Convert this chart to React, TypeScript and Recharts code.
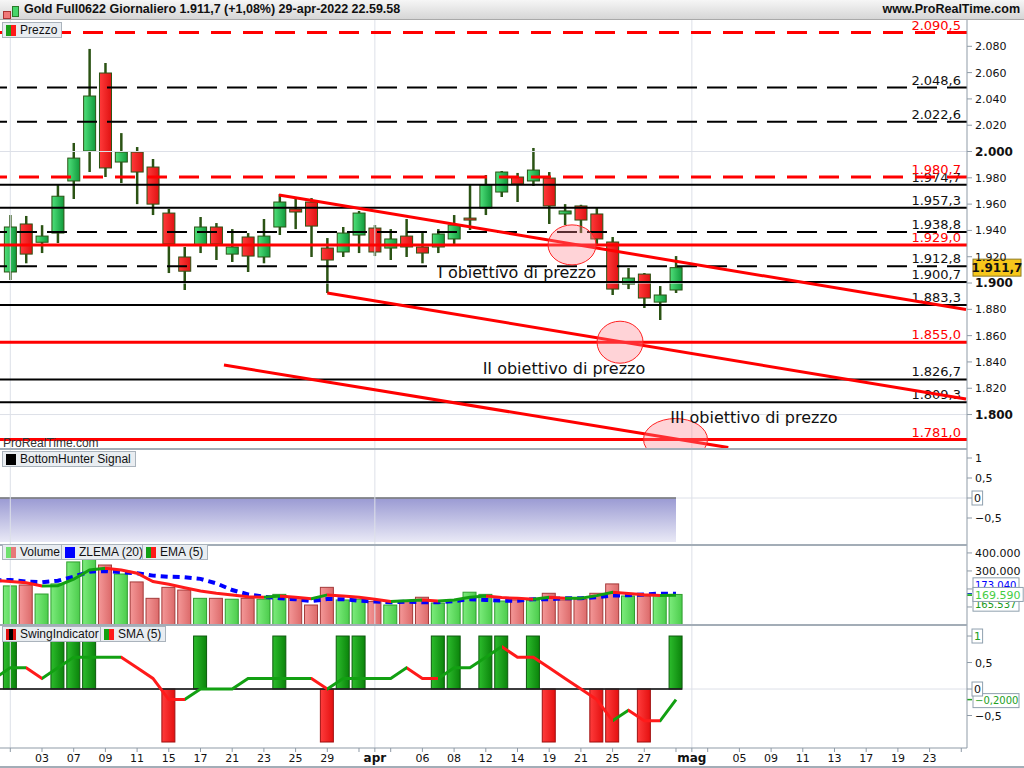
import React from "react";
import {
  ComposedChart,
  Bar,
  Line,
  Area,
  XAxis,
  YAxis,
  ReferenceLine,
  ReferenceDot,
} from "recharts";

// ---- data ----
const opens = [
  1908.4, 1944.9, 1931.0, 1938.0, 1977.6, 2000.4, 2059.7, 1992.0, 1999.6, 1988.2,
  1953.2, 1919.8, 1928.9, 1942.6, 1922.0, 1935.0, 1919.8, 1942.6, 1956.3, 1961.6,
  1926.6, 1923.6, 1936.5, 1941.8, 1926.6, 1935.7, 1927.4, 1927.4, 1933.5, 1949.4,
  1957.0, 1969.2, 1980.6, 1977.6, 1979.8, 1952.5, 1958.6, 1952.5, 1931.2, 1899.2,
  1906.8, 1885.5, 1894.7,
];
const highs = [
  1951.7, 1951.0, 1944.0, 1974.5, 2006.5, 2078.0, 2067.3, 2014.0, 2003.4, 1994.3,
  1956.3, 1927.4, 1950.2, 1945.6, 1941.0, 1938.0, 1948.7, 1967.7, 1963.9, 1964.6,
  1934.2, 1942.6, 1954.8, 1944.1, 1941.0, 1948.7, 1938.0, 1941.0, 1951.7, 1974.5,
  1982.1, 1985.2, 1983.7, 2002.7, 1984.4, 1960.0, 1959.5, 1957.0, 1935.0, 1911.4,
  1907.6, 1897.7, 1920.5,
];
const lows = [
  1902.3, 1915.0, 1922.8, 1930.4, 1963.9, 1984.4, 1980.6, 1976.0, 1960.0, 1951.7,
  1907.6, 1894.7, 1922.8, 1917.5, 1916.0, 1908.4, 1915.0, 1936.5, 1941.0, 1919.8,
  1892.4, 1919.8, 1922.8, 1920.5, 1917.5, 1919.8, 1915.0, 1922.8, 1929.7, 1940.3,
  1951.7, 1965.4, 1961.6, 1973.8, 1944.9, 1944.1, 1938.0, 1929.7, 1890.9, 1895.4,
  1881.0, 1871.9, 1892.4,
];
const closes = [
  1942.6, 1922.0, 1935.7, 1966.0, 1995.0, 2042.2, 1987.5, 1999.6, 1984.4, 1960.0,
  1929.7, 1909.0, 1942.6, 1929.7, 1927.4, 1920.5, 1935.7, 1961.6, 1954.0, 1943.3,
  1917.5, 1938.0, 1953.2, 1923.6, 1933.5, 1927.4, 1922.8, 1937.3, 1944.1, 1947.9,
  1974.5, 1984.4, 1975.3, 1985.9, 1958.6, 1954.8, 1947.9, 1933.5, 1895.4, 1903.8,
  1888.6, 1890.9, 1911.7,
];

const volumes = [
  217000, 222000, 172000, 228000, 350000, 365000, 333000, 283000, 239000, 148000,
  209000, 194000, 148000, 148000, 143000, 148000, 143000, 170000, 148000, 111000,
  209000, 139000, 143000, 130000, 111000, 133000, 154000, 122000, 137000, 182000,
  170000, 133000, 139000, 137000, 176000, 139000, 143000, 176000, 228000, 161000,
  161000, 167000, 169590,
];
const volumeUp = [
  1, 0, 1, 1, 1, 1, 0, 1, 0, 0, 0, 0, 1, 0, 1, 0, 1, 1, 0, 0, 0, 1, 1, 0, 1, 0,
  0, 1, 1, 1, 1, 1, 0, 1, 0, 0, 0, 0, 0, 1, 0, 1, 1,
];
// indicator series start one session before the first candle (index -1)
const emaVolume = [
  249000, 241000, 235000, 217000, 218000, 254000, 305000, 315000, 305000, 287000,
  241000, 226000, 207000, 189000, 176000, 167000, 157000, 154000, 161000, 154000,
  146000, 167000, 161000, 154000, 143000, 130000, 135000, 139000, 133000, 139000,
  154000, 161000, 152000, 148000, 143000, 154000, 148000, 149000, 163000, 182000,
  175000, 168000, 164000, 165537,
];
const zlemaVolume = [
  247000, 250000, 241000, 237000, 246000, 268000, 296000, 300000, 293000, 287000,
  274000, 268000, 265000, 256000, 231000, 194000, 170000, 157000, 148000, 143000,
  133000, 144000, 143000, 135000, 130000, 126000, 130000, 126000, 126000, 133000,
  143000, 139000, 135000, 135000, 143000, 143000, 148000, 148000, 154000, 163000,
  165000, 170000, 174000, 173040,
];
const swing = [
  1, 0, 0, 1, 1, 1, 0, 0, 0, 0, -1, 0, 1, 0, 0, 0, 0, 1, 0, 0, -1, 1, 1, 0, 0, 0,
  0, 1, 1, 0, 1, 1, 0, 1, -1, 0, 0, -1, -1, 0, -1, 0, 1,
];
const swingSma = [
  0.2, 0.4, 0.4, 0.2, 0.4, 0.6, 0.6, 0.6, 0.6, 0.4, 0.2, -0.2, -0.2, 0, 0, 0, 0.2,
  0.2, 0.2, 0.2, 0.2, 0, 0.2, 0.2, 0.2, 0.2, 0.4, 0.2, 0.2, 0.4, 0.4, 0.6, 0.8,
  0.6, 0.6, 0.4, 0.2, 0, -0.2, -0.6, -0.4, -0.6, -0.6, -0.2,
];

const redDashedLevels = [2090.5, 1980.7];
const blackDashedLevels = [2048.6, 2022.6, 1938.8, 1912.8];
const blackSolidLevels = [1974.7, 1957.3, 1900.7, 1883.3, 1826.7, 1809.3];
const redSolidLevels = [1929.0, 1855.0, 1781.0];

// trend lines: [start index, start price, end index, end price]
const trendLines = [
  [16.95, 1966.9, 60.3, 1879.8],
  [20, 1892.4, 60.3, 1811.8],
  [13.48, 1837.6, 45.3, 1774.9],
];
const targetIdx = [35.44, 38.47, 41.97];
const targetPrice = [1929.0, 1855.0, 1781.0];
const targetTexts = ["I obiettivo di prezzo", "II obiettivo di prezzo", "III obiettivo di prezzo"];
const targetTextIdx = [31.97, 34.93, 46.92];
const targetTextPrice = [1908.4, 1835.4, 1798.1];

const priceTicks = [1800, 1820, 1840, 1860, 1880, 1900, 1920, 1940, 1960, 1980, 2000, 2020, 2040, 2060, 2080];
const volumeTicks = [100000, 200000, 300000, 400000];
const volumeTickLabels = ["", "", "300.000", "400.000"];
const xTickIdx = [0, 2, 4, 6, 8, 10, 12, 14, 16, 18, 20, 22, 23, 24, 26, 28, 30, 32, 34, 36, 38, 40, 42, 43, 44, 46, 48, 50, 52, 54, 56, 58, 60];
const xTickLabels = ["", "03", "07", "09", "11", "15", "17", "21", "23", "25", "29", "", "apr", "", "06", "08", "12", "14", "19", "21", "25", "27", "", "mag", "", "05", "09", "11", "13", "17", "19", "23", ""];
const monthStarts = [0, 23, 43];
const lastPrice = 1911.7;

// ---- layout / style ----
const W = 1024;
const AXIS_W = 57;
const X_DOMAIN: [number, number] = [-0.65, 60.36];
const FONT = "'DejaVu Sans', sans-serif";
const LEGEND_FONT = "'Liberation Sans', Arial, sans-serif";
const WICK = "#2b5314";
const UP = "#12a012";
const DOWN = "#ff1a1a";
const GRID = "#dde0e8";
const AXIS = "#8f9ba7";
const SEP = "#a3adb7";
const ELLIPSE_RX = [24, 23, 32];
const ELLIPSE_RY = [20, 21, 21];

const priceRows = opens.map((o, i) => ({ i, open: o, high: highs[i], low: lows[i], close: closes[i] }));
const volRows = emaVolume.map((e, k) => {
  const i = k - 1;
  return { i, vol: i >= 0 ? volumes[i] : null, up: i >= 0 ? volumeUp[i] : 1, ema: e, zlema: zlemaVolume[k] };
});
const swingRows = swingSma.map((s, k) => {
  const i = k - 1;
  return { i, swing: i >= 0 ? swing[i] : null, sma: s, bh: 0 };
});

const itNum = (v: number, d: number) => {
  const neg = v < 0;
  const [int, frac] = Math.abs(v).toFixed(d).split(".");
  const s = int.replace(/\B(?=(\d{3})+(?!\d))/g, ".") + (frac ? "," + frac : "");
  return (neg ? "\u2212" : "") + s;
};

function trendStops(vals: number[], id: string) {
  const n = vals.length;
  const stops: React.ReactNode[] = [];
  let col = UP;
  for (let k = 0; k < n - 1; k++) {
    const d = vals[k + 1] - vals[k];
    if (d > 0) col = UP;
    else if (d < 0) col = DOWN;
    stops.push(<stop key={`${id}a${k}`} offset={k / (n - 1)} stopColor={col} />);
    stops.push(<stop key={`${id}b${k}`} offset={(k + 1) / (n - 1)} stopColor={col} />);
  }
  return stops;
}

function Candle(props: any) {
  const { x, y, width, height, payload } = props;
  if (!payload || x == null || y == null) return null;
  const top = Math.min(y, y + height);
  const h = Math.abs(height);
  const { open, high, low, close } = payload;
  const toY = (v: number) => top + ((high - v) / (high - low)) * h;
  const cx = x + width / 2;
  const up = close >= open;
  const bTop = toY(Math.max(open, close));
  const bBot = toY(Math.min(open, close));
  return (
    <g>
      <line x1={cx} x2={cx} y1={top} y2={top + h} stroke={WICK} strokeWidth={2.5} />
      <rect
        x={x}
        y={bTop}
        width={width}
        height={Math.max(bBot - bTop, 2)}
        fill={up ? "url(#candleUp)" : "url(#candleDown)"}
        stroke={WICK}
        strokeWidth={1}
      />
    </g>
  );
}

function VolumeBar(props: any) {
  const { x, y, width, height, payload } = props;
  if (!payload || !height) return null;
  const up = payload.up === 1;
  return (
    <rect
      x={x}
      y={y}
      width={width}
      height={height}
      fill={up ? "url(#volUp)" : "url(#volDown)"}
      stroke={up ? "#2f9e2f" : "#a43a3a"}
      strokeWidth={1}
    />
  );
}

function SwingBar(props: any) {
  const { x, y, width, height, payload } = props;
  if (!payload || !payload.swing) return null;
  const up = payload.swing > 0;
  const top = Math.min(y, y + height);
  return (
    <rect
      x={x}
      y={top}
      width={width}
      height={Math.abs(height)}
      fill={up ? "url(#swingUp)" : "url(#swingDown)"}
      stroke={up ? "#0c5a0c" : "#a01010"}
      strokeWidth={1}
    />
  );
}

const priceTick = (props: any) => {
  const { x, y, payload } = props;
  const v = payload.value;
  const bold = v % 100 === 0;
  return (
    <text x={x} y={y} dy={4} fontFamily={FONT} fontSize={bold ? 12 : 11} fontWeight={bold ? "bold" : "normal"} fill="#111">
      {itNum(v, 0)}
    </text>
  );
};

const boxedText = (x: number, y: number, text: string, color: string, fontSize = 11) => {
  const w = text.length * fontSize * 0.6 + 4;
  return (
    <g>
      <rect x={x} y={y - 7} width={w} height={14} fill="#fff" stroke="#8fa0ae" strokeWidth={1} />
      <text x={x + 2} y={y} dy={fontSize * 0.37} fontFamily={FONT} fontSize={fontSize} fill={color}>
        {text}
      </text>
    </g>
  );
};

const smallTick = (boxedValue: number | null, boxedColor: string) => (props: any) => {
  const { x, y, payload } = props;
  const v = payload.value;
  const text = itNum(v, v % 1 === 0 ? 0 : 1);
  if (boxedValue !== null && v === boxedValue) return boxedText(x - 3, y, text, boxedColor);
  if (v === 0) return boxedText(x - 3, y, text, "#111");
  return (
    <text x={x} y={y} dy={4} fontFamily={FONT} fontSize={11} fill="#111">
      {text}
    </text>
  );
};

const volumeTick = (props: any) => {
  const { x, y, payload } = props;
  const label = volumeTickLabels[volumeTicks.indexOf(payload.value)] ?? "";
  return (
    <text x={x} y={y} dy={4} fontFamily={FONT} fontSize={11} fill="#111">
      {label}
    </text>
  );
};

const xTick = (props: any) => {
  const { x, y, payload } = props;
  const label = xTickLabels[xTickIdx.indexOf(payload.value)] ?? "";
  const bold = label === "apr" || label === "mag";
  return (
    <text x={x} y={y} dy={9} textAnchor="middle" fontFamily={FONT} fontSize={bold ? 12 : 11} fontWeight={bold ? "bold" : "normal"} fill="#111">
      {label}
    </text>
  );
};

const levelLabel = (text: string, color: string) => (props: any) => {
  const vb = props.viewBox;
  if (!vb) return null;
  return (
    <text x={vb.x + vb.width - 6} y={vb.y - 3} textAnchor="end" fontFamily={FONT} fontSize={13} fill={color}>
      {text}
    </text>
  );
};

const hGrad = (id: string, a: string, b: string) => (
  <linearGradient id={id} x1="0" y1="0" x2="1" y2="0">
    <stop offset="0%" stopColor={a} />
    <stop offset="100%" stopColor={b} />
  </linearGradient>
);

function LegendBox({ left, top, icon, text }: { left: number; top: number; icon: React.ReactNode; text: string }) {
  return (
    <div
      style={{
        position: "absolute",
        left,
        top,
        height: 16,
        padding: "0 4px 0 3px",
        display: "flex",
        alignItems: "center",
        gap: 4,
        background: "#e9edf1",
        border: "1px solid #aab3bc",
        boxSizing: "border-box",
        fontFamily: LEGEND_FONT,
        fontSize: 12,
        color: "#111",
        whiteSpace: "nowrap",
      }}
    >
      {icon}
      {text}
    </div>
  );
}

const twoTone = (a: string, b: string, c?: string) => (
  <span style={{ display: "flex", width: 10, height: 11 }}>
    <span style={{ flex: 1, background: a }} />
    {c && <span style={{ flex: 1, background: c }} />}
    <span style={{ flex: 1, background: b }} />
  </span>
);

const monthGrid = () =>
  monthStarts.map((m) => <ReferenceLine key={`m${m}`} x={m} stroke={GRID} strokeWidth={1} />);

const valueBox = (v: number, text: string, color: string, dy: number, fontSize = 11) => (
  <ReferenceLine
    key={`vb${v}${text}`}
    y={v}
    stroke="none"
    label={{
      content: (p: any) => {
        const vb = p.viewBox;
        if (!vb) return null;
        const x0 = vb.x + vb.width;
        return (
          <g>
            <line x1={x0} x2={x0 + 5} y1={vb.y} y2={vb.y} stroke={color} strokeWidth={1.5} />
            {boxedText(x0 + 6, vb.y + dy, text, color, fontSize)}
          </g>
        );
      },
    }}
  />
);

export default function App() {
  const priceH = 429;
  const bhH = 96;
  const volH = 80;
  const swingH = 143;

  return (
    <div style={{ position: "absolute", left: 0, top: 0, width: W, height: 768, background: "#fff", overflow: "hidden" }}>
      {/* header */}
      <div
        style={{
          position: "absolute",
          left: 0,
          top: 0,
          width: W,
          height: 20,
          background: "linear-gradient(#f6f6f6, #d6d6d6)",
          borderBottom: "1px solid #a9a9a9",
          boxSizing: "border-box",
          fontFamily: LEGEND_FONT,
          fontWeight: "bold",
          fontSize: 12.5,
          color: "#111",
        }}
      >
        <span style={{ position: "absolute", left: 3, top: 11, width: 6, height: 6, background: "#f07878", border: "1px solid #a33" }} />
        <span style={{ position: "absolute", left: 12, top: 6, width: 5, height: 9, background: "#46d66a", border: "1px solid #2a7a2a" }} />
        <span style={{ position: "absolute", left: 24, top: 2 }}>
          Gold Full0622 Giornaliero 1.911,7 (+1,08%) 29-apr-2022 22.59.58
        </span>
        <span style={{ position: "absolute", right: 4, top: 2 }}>www.ProRealTime.com</span>
      </div>

      {/* price panel */}
      <div style={{ position: "absolute", left: 0, top: 20 }}>
        <ComposedChart width={W} height={priceH} data={priceRows} margin={{ top: 0, right: 0, bottom: 0, left: 0 }}>
          <defs>
            {hGrad("candleUp", "#4fe07a", "#119a3c")}
            {hGrad("candleDown", "#ff3a3a", "#e01212")}
          </defs>
          <XAxis dataKey="i" type="number" domain={X_DOMAIN} ticks={xTickIdx} allowDataOverflow hide />
          <YAxis
            orientation="right"
            width={AXIS_W}
            domain={[1773.8, 2100]}
            allowDataOverflow
            ticks={priceTicks}
            interval={0}
            tick={priceTick}
            tickSize={5}
            tickMargin={3}
            tickLine={{ stroke: AXIS }}
            axisLine={{ stroke: AXIS }}
          />
          {monthGrid()}
          {[1800, 1900, 2000].map((v) => (
            <ReferenceLine key={`g${v}`} y={v} stroke={GRID} strokeWidth={1} />
          ))}
          <Bar dataKey={(d: any) => [d.low, d.high]} barSize={12} shape={Candle} isAnimationActive={false} />
          {blackDashedLevels.map((v) => (
            <ReferenceLine key={`bd${v}`} y={v} stroke="#000" strokeWidth={2} strokeDasharray="20 10" label={{ content: levelLabel(itNum(v, 1), "#111") }} />
          ))}
          {blackSolidLevels.map((v) => (
            <ReferenceLine key={`bs${v}`} y={v} stroke="#000" strokeWidth={2} label={{ content: levelLabel(itNum(v, 1), "#111") }} />
          ))}
          {redDashedLevels.map((v) => (
            <ReferenceLine key={`rd${v}`} y={v} stroke="#ff0000" strokeWidth={3} strokeDasharray="20 12" label={{ content: levelLabel(itNum(v, 1), "#ff0000") }} />
          ))}
          {redSolidLevels.map((v) => (
            <ReferenceLine key={`rs${v}`} y={v} stroke="#ff0000" strokeWidth={3} label={{ content: levelLabel(itNum(v, 1), "#ff0000") }} />
          ))}
          {trendLines.map((t, k) => (
            <ReferenceLine
              key={`t${k}`}
              segment={[
                { x: t[0], y: t[1] },
                { x: t[2], y: t[3] },
              ]}
              stroke="#ff0000"
              strokeWidth={3}
              ifOverflow="visible"
            />
          ))}
          {targetIdx.map((x, k) => (
            <ReferenceDot
              key={`c${k}`}
              x={x}
              y={targetPrice[k]}
              r={ELLIPSE_RX[k]}
              ifOverflow="visible"
              shape={(p: any) => (
                <ellipse cx={p.cx} cy={p.cy} rx={ELLIPSE_RX[k]} ry={ELLIPSE_RY[k]} fill="rgba(255,130,140,0.35)" stroke="#ff2020" strokeWidth={1} />
              )}
            />
          ))}
          {targetTexts.map((txt, k) => (
            <ReferenceDot
              key={`tt${k}`}
              x={targetTextIdx[k]}
              y={targetTextPrice[k]}
              r={0}
              ifOverflow="visible"
              shape={(p: any) => (
                <text x={p.cx} y={p.cy} dy={6} textAnchor="middle" fontFamily={FONT} fontSize={16} fill="#111">
                  {txt}
                </text>
              )}
            />
          ))}
          <ReferenceLine
            y={lastPrice}
            stroke="none"
            label={{
              content: (p: any) => {
                const vb = p.viewBox;
                if (!vb) return null;
                const x0 = vb.x + vb.width + 6;
                return (
                  <g>
                    <rect x={x0} y={vb.y - 8.5} width={48} height={17} fill="#f7c71b" stroke="#8f7b25" strokeWidth={1} />
                    <text x={x0 + 24} y={vb.y} dy={4.5} textAnchor="middle" fontFamily={FONT} fontSize={12} fontWeight="bold" fill="#111">
                      {itNum(lastPrice, 1)}
                    </text>
                  </g>
                );
              },
            }}
          />
        </ComposedChart>
      </div>
      <div style={{ position: "absolute", left: 3, top: 436, fontFamily: LEGEND_FONT, fontSize: 12, color: "#333" }}>ProRealTime.com</div>

      {/* BottomHunter panel */}
      <div style={{ position: "absolute", left: 0, top: 449 }}>
        <ComposedChart width={W} height={bhH} data={swingRows} margin={{ top: 0, right: 0, bottom: 0, left: 0 }}>
          <defs>
            <linearGradient id="bhFill" x1="0" y1="0" x2="0" y2="1">
              <stop offset="0%" stopColor="#9a9ad3" />
              <stop offset="100%" stopColor="#e9e9f6" />
            </linearGradient>
          </defs>
          <XAxis dataKey="i" type="number" domain={X_DOMAIN} ticks={xTickIdx} allowDataOverflow hide />
          <YAxis
            orientation="right"
            width={AXIS_W}
            domain={[-1.175, 1.225]}
            allowDataOverflow
            ticks={[1, 0.5, 0, -0.5]}
            interval={0}
            tick={smallTick(null, "#111")}
            tickSize={5}
            tickMargin={3}
            tickLine={{ stroke: AXIS }}
            axisLine={{ stroke: AXIS }}
          />
          {monthGrid()}
          <ReferenceLine y={0} stroke={GRID} strokeWidth={1} />
          <Area type="linear" dataKey="bh" baseValue={-1.1} stroke="#000" strokeWidth={1.5} fill="url(#bhFill)" fillOpacity={1} isAnimationActive={false} />
        </ComposedChart>
      </div>

      {/* volume panel */}
      <div style={{ position: "absolute", left: 0, top: 545 }}>
        <ComposedChart width={W} height={volH} data={volRows} margin={{ top: 0, right: 0, bottom: 0, left: 0 }}>
          <defs>
            {hGrad("volUp", "#7cec7c", "#4ccc4c")}
            {hGrad("volDown", "#f49898", "#dc6a6a")}
            <linearGradient id="emaGrad" x1="0" y1="0" x2="1" y2="0">
              {trendStops(emaVolume, "e")}
            </linearGradient>
          </defs>
          <XAxis dataKey="i" type="number" domain={X_DOMAIN} ticks={xTickIdx} allowDataOverflow hide />
          <YAxis
            orientation="right"
            width={AXIS_W}
            domain={[0, 444000]}
            allowDataOverflow
            ticks={volumeTicks}
            interval={0}
            tick={volumeTick}
            tickSize={5}
            tickMargin={3}
            tickLine={{ stroke: AXIS }}
            axisLine={{ stroke: AXIS }}
          />
          {monthGrid()}
          <Bar dataKey="vol" barSize={13} shape={VolumeBar} isAnimationActive={false} />
          <Line type="linear" dataKey="zlema" stroke="#0000ff" strokeWidth={4} strokeDasharray="7 5" dot={false} isAnimationActive={false} />
          <Line type="linear" dataKey="ema" stroke="url(#emaGrad)" strokeWidth={3} dot={false} isAnimationActive={false} />
          {valueBox(zlemaVolume[zlemaVolume.length - 1], itNum(zlemaVolume[zlemaVolume.length - 1], 0), "#0000ff", -9, 10)}
          {valueBox(emaVolume[emaVolume.length - 1], itNum(emaVolume[emaVolume.length - 1], 0), "#1a9a1a", 9, 10)}
          {valueBox(volumes[volumes.length - 1], itNum(volumes[volumes.length - 1], 0), "#44cc44", 0, 11)}
        </ComposedChart>
      </div>

      {/* swing panel */}
      <div style={{ position: "absolute", left: 0, top: 625 }}>
        <ComposedChart width={W} height={swingH} data={swingRows} margin={{ top: 0, right: 0, bottom: 0, left: 0 }}>
          <defs>
            {hGrad("swingUp", "#2cbc2c", "#0b840b")}
            {hGrad("swingDown", "#ff3c3c", "#e41010")}
            <linearGradient id="smaGrad" x1="0" y1="0" x2="1" y2="0">
              {trendStops(swingSma, "s")}
            </linearGradient>
          </defs>
          <XAxis
            dataKey="i"
            type="number"
            domain={X_DOMAIN}
            ticks={xTickIdx}
            interval={0}
            allowDataOverflow
            height={20}
            tick={xTick}
            tickSize={4}
            tickMargin={1}
            tickLine={{ stroke: AXIS }}
            axisLine={{ stroke: AXIS }}
          />
          <YAxis
            orientation="right"
            width={AXIS_W}
            domain={[-1.113, 1.208]}
            allowDataOverflow
            ticks={[1, 0.5, 0, -0.5]}
            interval={0}
            tick={smallTick(1, "#22a022")}
            tickSize={5}
            tickMargin={3}
            tickLine={{ stroke: AXIS }}
            axisLine={{ stroke: AXIS }}
          />
          {monthGrid()}
          <ReferenceLine y={0} stroke={GRID} strokeWidth={1} />
          <Bar dataKey="swing" barSize={13} shape={SwingBar} isAnimationActive={false} />
          <ReferenceLine
            segment={[
              { x: -0.65, y: 0 },
              { x: 42.4, y: 0 },
            ]}
            stroke="#000"
            strokeWidth={1.5}
          />
          <Line type="linear" dataKey="sma" stroke="url(#smaGrad)" strokeWidth={3} dot={false} isAnimationActive={false} />
          {valueBox(swingSma[swingSma.length - 1], itNum(swingSma[swingSma.length - 1], 4), "#22a022", 1, 10)}
        </ComposedChart>
      </div>

      {/* panel separators */}
      {[449, 545, 625].map((t) => (
        <div key={t} style={{ position: "absolute", left: 0, top: t - 1, width: W - AXIS_W, height: 2, background: SEP }} />
      ))}
      <div style={{ position: "absolute", left: 0, top: 766, width: W, height: 2, background: SEP }} />

      {/* legends */}
      <LegendBox left={2} top={22} icon={twoTone("#1aa01a", "#ff1a1a")} text="Prezzo" />
      <LegendBox left={2} top={451} icon={<span style={{ width: 10, height: 11, background: "#000" }} />} text="BottomHunter Signal" />
      <div style={{ position: "absolute", left: 2, top: 544 }}>
        <LegendBox left={0} top={0} icon={twoTone("#6fe06f", "#e87878")} text="Volume" />
        <LegendBox left={59} top={0} icon={<span style={{ width: 10, height: 11, background: "#0000ff" }} />} text="ZLEMA (20)" />
        <LegendBox left={140} top={0} icon={twoTone("#12a012", "#ff1a1a")} text="EMA (5)" />
      </div>
      <div style={{ position: "absolute", left: 2, top: 626 }}>
        <LegendBox left={0} top={0} icon={twoTone("#e01010", "#e01010", "#000")} text="SwingIndicator" />
        <LegendBox left={98} top={0} icon={twoTone("#12a012", "#ff1a1a")} text="SMA (5)" />
      </div>
    </div>
  );
}
